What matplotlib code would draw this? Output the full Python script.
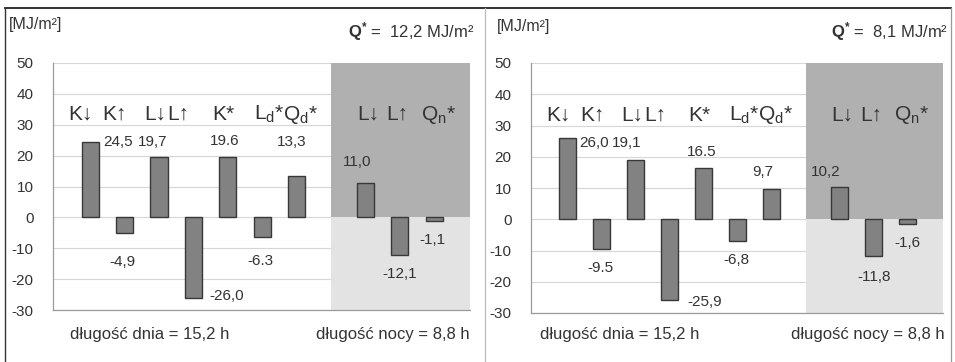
import matplotlib
matplotlib.use("Agg")
from matplotlib import pyplot as plt
from matplotlib.lines import Line2D

plt.rcParams['font.family'] = ['Liberation Sans', 'DejaVu Sans']
plt.rcParams['mathtext.fontset'] = 'custom'
plt.rcParams['mathtext.rm'] = 'Liberation Sans'
plt.rcParams['mathtext.bf'] = 'Liberation Sans:bold'
plt.rcParams['axes.unicode_minus'] = False

# categories: 7 day terms, gap slot, 3 night terms
categories = ['K↓', 'K↑', 'L↓', 'L↑', 'K*', r'L$_\mathregular{d}$*', r'Q$_\mathregular{d}$*',
              'L↓', 'L↑', r'Q$_\mathregular{n}$*']
slots = [0, 1, 2, 3, 4, 5, 6, 8, 9, 10]

left_values = [24.5, -4.9, 19.7, -26.0, 19.6, -6.3, 13.3, 11.0, -12.1, -1.1]
left_labels = ['24,5', '-4,9', '19,7', '-26,0', '19.6', '-6.3', '13,3', '11,0', '-12,1', '-1,1']
left_q = r'$\mathbf{Q^{*}}$ =  12,2 MJ/m²'

right_values = [26.0, -9.5, 19.1, -25.9, 16.5, -6.8, 9.7, 10.2, -11.8, -1.6]
right_labels = ['26,0', '-9.5', '19,1', '-25,9', '16.5', '-6,8', '9,7', '10,2', '-11,8', '-1,6']
right_q = r'$\mathbf{Q^{*}}$ =  8,1 MJ/m²'

day_text = 'długość dnia = 15,2 h'
night_text = 'długość nocy = 8,8 h'

# where the value labels sit (slot, value units)
left_label_pos = [(0.81, 24.3), (0.94, -14.6), (1.83, 24.3), (3.98, -25.6), (3.9, 24.6),
                  (4.94, -14.2), (5.87, 24.3), (7.76, 17.8), (9.0, -18.4), (9.94, -7.4)]
right_label_pos = [(0.77, 24.3), (0.97, -15.7), (1.74, 24.3), (4.03, -26.6), (3.94, 21.4),
                   (4.97, -13.1), (5.74, 15.0), (7.58, 15.0), (9.0, -18.5), (10.0, -7.7)]
cat_label_x = [-0.28, 0.72, 1.9, 2.57, 3.88, 5.2, 6.1, 8.07, 8.93, 10.12]

W, H = 955, 362
fig = plt.figure(figsize=(W / 100, H / 100), dpi=100)


def fx(px):
    return px / W


def fy(py):
    return 1 - py / H


def panel(x0, x1, y_top, y_bot, values, labels, label_pos):
    ax = fig.add_axes([fx(x0), fy(y_bot), fx(x1) - fx(x0), fy(y_top) - fy(y_bot)])
    xmin, xmax = -1.08, 11.04
    ax.set_xlim(xmin, xmax)
    ax.set_ylim(-30, 50)

    ax.fill_between([7.0, xmax], 0, 50, color='#b0b0b0', lw=0, zorder=1)
    ax.fill_between([7.0, xmax], -30, 0, color='#e3e3e3', lw=0, zorder=1)

    ax.bar(slots, values, width=0.5, color='#828282', edgecolor='#383838', linewidth=1.0, zorder=3)

    for (lx, ly), t in zip(label_pos, labels):
        ax.text(lx, ly, t, ha='center', va='center', fontsize=11, color='#333333', zorder=4)
    for cx, c in zip(cat_label_x, categories):
        ax.text(cx, 33.3, c, ha='center', va='center', fontsize=15, color='#333333', zorder=4)

    ax.set_yticks(range(-30, 51, 10))
    ax.set_xticks([])
    ax.yaxis.grid(True, color='#d6d6d6', lw=0.8)
    ax.set_axisbelow(True)
    ax.tick_params(axis='y', length=0, labelsize=11, labelcolor='#333333', pad=14)
    for s in ['top', 'right']:
        ax.spines[s].set_visible(False)
    for s in ['left', 'bottom']:
        ax.spines[s].set_color('#9a9a9a')
        ax.spines[s].set_linewidth(0.9)
    return ax


panel(53, 470, 63, 310, left_values, left_labels, left_label_pos)
panel(531, 943, 63, 313, right_values, right_labels, right_label_pos)

txt = dict(fontsize=11.5, color='#333333', va='center')
fig.text(fx(9), fy(24), '[MJ/m²]', ha='left', **txt)
fig.text(fx(497), fy(26), '[MJ/m²]', ha='left', **txt)
qt = dict(fontsize=12, color='#333333', va='center')
fig.text(fx(474), fy(32), left_q, ha='right', **qt)
fig.text(fx(948), fy(32), right_q, ha='right', **qt)

bt = dict(fontsize=12, color='#333333', va='center')
fig.text(fx(150), fy(335), day_text, ha='center', **bt)
fig.text(fx(470), fy(335), night_text, ha='right', **bt)
fig.text(fx(620), fy(335), day_text, ha='center', **bt)
fig.text(fx(945), fy(335), night_text, ha='right', **bt)

# panel frames
fig.add_artist(Line2D([fx(5), fx(951)], [fy(8), fy(8)], color='#222222', lw=1.3))
fig.add_artist(Line2D([fx(5), fx(5)], [fy(8), fy(361)], color='#333333', lw=1.0))
fig.add_artist(Line2D([fx(485), fx(485)], [fy(8), fy(361)], color='#bbbbbb', lw=0.9))
fig.add_artist(Line2D([fx(951), fx(951)], [fy(8), fy(361)], color='#999999', lw=0.9))

fig.savefig('out.png', dpi=100)
